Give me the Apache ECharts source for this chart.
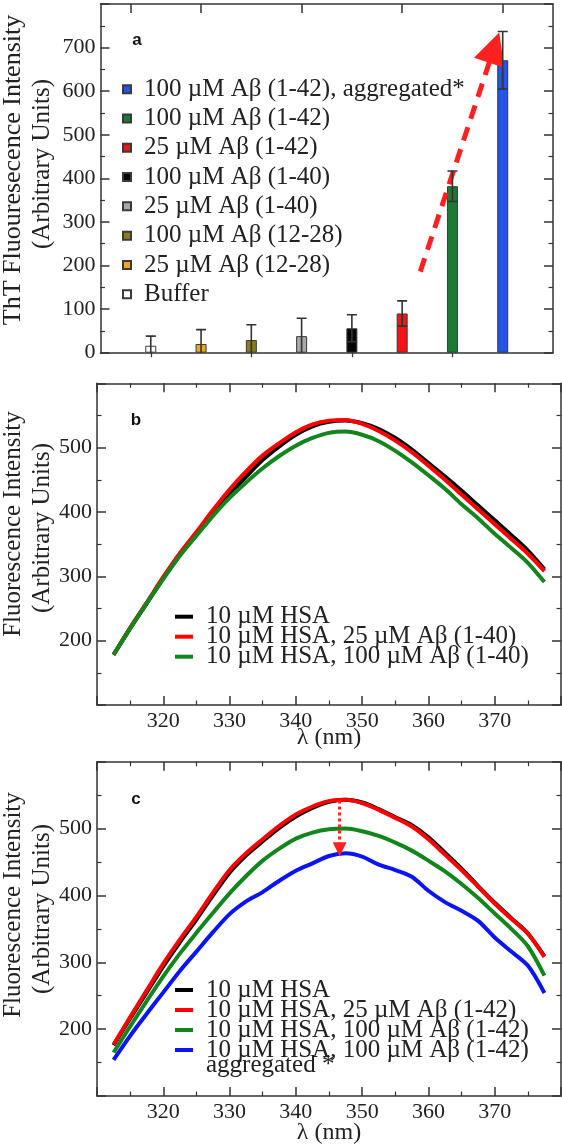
<!DOCTYPE html>
<html>
<head>
<meta charset="utf-8">
<script src="https://cdn.jsdelivr.net/npm/echarts@6/dist/echarts.min.js"></script>
<style>
html,body{margin:0;padding:0;background:#fff;}
#chart{width:562px;height:1148px;}
</style>
</head>
<body>
<div id="chart"></div>
<script>
// ---------- Panel a data ----------
const categories = ['Buffer', '25 µM Aβ (12-28)', '100 µM Aβ (12-28)', '25 µM Aβ (1-40)',
  '100 µM Aβ (1-40)', '25 µM Aβ (1-42)', '100 µM Aβ (1-42)', '100 µM Aβ (1-42), aggregated*'];
const barPositions = [1, 2, 3, 4, 5, 6, 7, 8];
const barValues = [16, 20, 29, 38, 56, 90, 382, 671];
const barErrors = [22, 33, 35, 41, 31, 29, 35, 66];
const barColors = ['#ffffff', '#EDA62A', '#8A7A22', '#A8A8A8', '#050505', '#F01616', '#1C7A34', '#2156E6'];
const topMajorTicks = [0.6, 2, 4, 6, 8];
const topMinorTicks = [1, 3, 5, 7];
const arrowA = [[6.36, 186], [7.83, 700]];
const yTicksA = [0, 800, 100];

// ---------- Panel b/c data ----------
const wavelengths = [312.5, 315, 317.5, 320, 322.5, 325, 327.5, 330, 332.5, 335, 337.5, 340, 342.5,
  345, 347.5, 350, 352.5, 355, 357.5, 360, 362.5, 365, 367.5, 370, 372.5, 375, 377.5];

const bNames = ['10 µM HSA', '10 µM HSA, 25 µM Aβ (1-40)', '10 µM HSA, 100 µM Aβ (1-40)'];
const bBlack = [178, 219, 258, 297, 333, 365, 398, 428, 455, 481, 502, 520, 533, 540, 542, 538, 529, 515, 497, 476, 455, 433, 410, 387, 364, 340, 311];
const bRed   = [178, 220, 259, 299, 336, 369, 403, 435, 463, 488, 507, 524, 536, 542, 543, 537, 526, 511, 493, 472, 450, 427, 404, 381, 358, 335, 308];
const bGreen = [178, 219, 258, 296, 332, 363, 394, 422, 446, 468, 487, 503, 515, 523, 525, 520, 510, 495, 477, 457, 436, 412, 390, 366, 344, 321, 291];

const cNames = ['10 µM HSA', '10 µM HSA, 25 µM Aβ (1-42)', '10 µM HSA, 100 µM Aβ (1-42)', '10 µM HSA, 100 µM Aβ (1-42) '];
const cBlack = [176, 216, 255, 294, 330, 364, 400, 434, 460, 481, 501, 518, 531, 540, 543, 539, 529, 517, 505, 487, 464, 440, 414, 389, 366, 343, 309];
const cRed   = [177, 218, 258, 298, 334, 368, 404, 438, 463, 484, 504, 521, 533, 541, 543, 538, 528, 516, 503, 484, 461, 438, 413, 388, 365, 343, 308];
const cGreen = [165, 204, 242, 279, 313, 344, 374, 403, 429, 452, 470, 485, 494, 499, 500, 496, 489, 479, 467, 452, 436, 417, 396, 373, 350, 324, 280];
const cBlue  = [154, 190, 223, 255, 287, 316, 345, 372, 391, 405, 422, 437, 448, 459, 463, 458, 446, 438, 428, 407, 390, 377, 362, 337, 316, 295, 254];
const cBlueNote = 'aggregated *';
const arrowC = [[346.6, 542], [346.6, 469]];
const xTicksBC = [310, 380, 10];
const yTicksBC = [100, 600, 100];

const lineColors = {black: '#000000', red: '#FF0000', green: '#12861C', blue: '#0A14F5'};

// ---------- helpers ----------
const serif = 'Liberation Serif';
const axisColor = '#333';
const pairs = (xs, ys) => xs.map((x, i) => [x, ys[i]]);

function yAxisCfg(grid, range, pos, labels) {
  return {
    type: 'value', gridIndex: grid, position: pos, min: range[0], max: range[1], interval: range[2],
    axisLine: {show: true, onZero: false, lineStyle: {color: axisColor, width: 1.5}},
    axisTick: {show: true, inside: true, length: 9, lineStyle: {color: axisColor, width: 1.5}},
    minorTick: {show: true, splitNumber: 2, length: 4.5, lineStyle: {color: axisColor, width: 1.2}},
    splitLine: {show: false}, minorSplitLine: {show: false},
    axisLabel: {show: labels, margin: 5, fontFamily: serif, fontSize: 22, color: '#222',
      showMinLabel: range[0] === 0, showMaxLabel: false}
  };
}
function xAxisCfg(grid, range, pos, labels, nameGap) {
  const a = {
    type: 'value', gridIndex: grid, position: pos, min: range[0], max: range[1], interval: range[2],
    axisLine: {show: true, onZero: false, lineStyle: {color: axisColor, width: 1.5}},
    axisTick: {show: true, inside: true, length: 9, lineStyle: {color: axisColor, width: 1.5}},
    minorTick: {show: true, splitNumber: 2, length: 4.5, lineStyle: {color: axisColor, width: 1.2}},
    splitLine: {show: false}, minorSplitLine: {show: false},
    axisLabel: {show: labels, margin: 5, fontFamily: serif, fontSize: 22, color: '#222',
      showMinLabel: false, showMaxLabel: false}
  };
  if (labels) {
    a.name = 'λ (nm)'; a.nameLocation = 'middle'; a.nameGap = nameGap; a.nameMoveOverlap = false;
    a.nameTextStyle = {fontFamily: serif, fontSize: 24, color: '#222'};
  }
  return a;
}

const grids = [
  {left: 100.5, top: 4, width: 452.5, height: 348.7},
  {left: 97, top: 383.3, width: 464, height: 321.7},
  {left: 97, top: 761.7, width: 464, height: 334.3}
];

const xAxes = [
  {type: 'value', gridIndex: 0, position: 'bottom', min: 0, max: 9,
    axisLine: {show: true, onZero: false, lineStyle: {color: axisColor, width: 1.5}},
    axisTick: {show: false}, axisLabel: {show: false}, splitLine: {show: false}},
  {type: 'value', gridIndex: 0, position: 'top', min: 0, max: 9,
    axisLine: {show: true, onZero: false, lineStyle: {color: axisColor, width: 1.5}},
    axisTick: {show: true, inside: true, length: 9, customValues: topMajorTicks, lineStyle: {color: axisColor, width: 1.5}},
    axisLabel: {show: false}, splitLine: {show: false}},
  {type: 'value', gridIndex: 0, position: 'top', min: 0, max: 9,
    axisLine: {show: false},
    axisTick: {show: true, inside: true, length: 4.5, customValues: topMinorTicks, lineStyle: {color: axisColor, width: 1.2}},
    axisLabel: {show: false}, splitLine: {show: false}},
  xAxisCfg(1, xTicksBC, 'bottom', true, 21),
  xAxisCfg(1, xTicksBC, 'top', false),
  xAxisCfg(2, xTicksBC, 'bottom', true, 25),
  xAxisCfg(2, xTicksBC, 'top', false)
];
const yAxes = [
  yAxisCfg(0, yTicksA, 'left', true),
  yAxisCfg(0, yTicksA, 'right', false),
  yAxisCfg(1, yTicksBC, 'left', true),
  yAxisCfg(1, yTicksBC, 'right', false),
  yAxisCfg(2, yTicksBC, 'left', true),
  yAxisCfg(2, yTicksBC, 'right', false)
];

const series = [];
// bars
categories.forEach((name, i) => {
  series.push({
    type: 'bar', name: name, xAxisIndex: 0, yAxisIndex: 0, barWidth: 11, barGap: '-100%',
    itemStyle: {color: barColors[i], borderColor: '#3a3a3a', borderWidth: 1},
    data: [[barPositions[i], barValues[i]]], z: 2
  });
});
// error bars
series.push({
  type: 'custom', xAxisIndex: 0, yAxisIndex: 0, clip: true, z: 5,
  data: barPositions.map((x, i) => [x, barValues[i], barErrors[i]]),
  renderItem: function (params, api) {
    const x = api.value(0), v = api.value(1), e = api.value(2);
    const top = api.coord([x, v + e]);
    const bot = api.coord([x, v - e]);
    const hw = 5;
    const st = {stroke: '#333', lineWidth: 1.6};
    return {type: 'group', children: [
      {type: 'line', shape: {x1: top[0], y1: top[1], x2: bot[0], y2: bot[1]}, style: st},
      {type: 'line', shape: {x1: top[0] - hw, y1: top[1], x2: top[0] + hw, y2: top[1]}, style: st},
      {type: 'line', shape: {x1: bot[0] - hw, y1: bot[1], x2: bot[0] + hw, y2: bot[1]}, style: st}
    ]};
  }
});
// dashed arrow panel a
series.push({
  type: 'line', xAxisIndex: 0, yAxisIndex: 0, data: [], z: 10,
  markLine: {
    silent: true, animation: false, symbol: ['none', 'triangle'], symbolSize: 32,
    label: {show: false},
    lineStyle: {color: '#FF2020', width: 5, type: [14, 9]},
    itemStyle: {color: '#FF2020'},
    data: [[{coord: arrowA[0]}, {coord: arrowA[1]}]]
  }
});
// panel b lines
[[bNames[0], bBlack, lineColors.black], [bNames[1], bRed, lineColors.red], [bNames[2], bGreen, lineColors.green]]
  .forEach(([n, d, c]) => series.push({
    type: 'line', name: n, xAxisIndex: 3, yAxisIndex: 2, data: pairs(wavelengths, d),
    smooth: 0.3, symbol: 'none', lineStyle: {color: c, width: 4}, itemStyle: {color: c}
  }));
// panel c lines
[[cNames[0], cBlack, lineColors.black], [cNames[1], cRed, lineColors.red], [cNames[2], cGreen, lineColors.green], [cNames[3], cBlue, lineColors.blue]]
  .forEach(([n, d, c]) => series.push({
    type: 'line', name: n, xAxisIndex: 5, yAxisIndex: 4, data: pairs(wavelengths, d),
    smooth: 0.3, symbol: 'none', lineStyle: {color: c, width: 4}, itemStyle: {color: c}
  }));
// dotted arrow panel c
series.push({
  type: 'line', xAxisIndex: 5, yAxisIndex: 4, data: [], z: 10,
  markLine: {
    silent: true, animation: false, symbol: ['none', 'triangle'], symbolSize: 14,
    label: {show: false},
    lineStyle: {color: '#FF2020', width: 3, type: [3, 3]},
    itemStyle: {color: '#FF2020'},
    data: [[{coord: arrowC[0]}, {coord: arrowC[1]}]]
  }
});

const legendText = (size, lh) => ({fontFamily: serif, fontSize: size, lineHeight: lh, color: '#222', padding: [0, 0, 0, 8]});

const option = {
  animation: false,
  backgroundColor: '#fff',
  textStyle: {fontFamily: serif},
  grid: grids,
  xAxis: xAxes,
  yAxis: yAxes,
  legend: [
    {orient: 'vertical', left: 122, top: 74.5, padding: 0, icon: 'rect', itemWidth: 8, itemHeight: 8, itemGap: 0,
      selectedMode: false, textStyle: legendText(25, 29.3), data: categories.slice().reverse()},
    {orient: 'vertical', left: 175, top: 604.2, padding: 0, icon: 'rect', itemWidth: 18, itemHeight: 4, itemGap: -5,
      selectedMode: false, textStyle: legendText(25, 20), data: bNames},
    {orient: 'vertical', left: 175, top: 977.5, padding: 0, icon: 'rect', itemWidth: 18, itemHeight: 4, itemGap: -5,
      selectedMode: false, textStyle: legendText(25, 20), data: cNames}
  ],
  graphic: [
    {type: 'text', x: 137, y: 40, style: {text: 'a', font: 'bold 17px "Liberation Sans"', fill: '#111', align: 'center', verticalAlign: 'middle'}},
    {type: 'text', x: 136, y: 420, style: {text: 'b', font: 'bold 17px "Liberation Sans"', fill: '#111', align: 'center', verticalAlign: 'middle'}},
    {type: 'text', x: 136, y: 799, style: {text: 'c', font: 'bold 17px "Liberation Sans"', fill: '#111', align: 'center', verticalAlign: 'middle'}},
    {type: 'text', x: 13, y: 170, rotation: Math.PI / 2, style: {text: 'ThT Fluouresecence Intensity', font: '26px "Liberation Serif"', fill: '#222', align: 'center', verticalAlign: 'middle'}},
    {type: 'text', x: 42, y: 164, rotation: Math.PI / 2, style: {text: '(Arbitrary Units)', font: '25px "Liberation Serif"', fill: '#222', align: 'center', verticalAlign: 'middle'}},
    {type: 'text', x: 13, y: 524, rotation: Math.PI / 2, style: {text: 'Fluorescence Intensity', font: '25px "Liberation Serif"', fill: '#222', align: 'center', verticalAlign: 'middle'}},
    {type: 'text', x: 42, y: 528, rotation: Math.PI / 2, style: {text: '(Arbitrary Units)', font: '25px "Liberation Serif"', fill: '#222', align: 'center', verticalAlign: 'middle'}},
    {type: 'text', x: 13, y: 905, rotation: Math.PI / 2, style: {text: 'Fluorescence Intensity', font: '25px "Liberation Serif"', fill: '#222', align: 'center', verticalAlign: 'middle'}},
    {type: 'text', x: 42, y: 909, rotation: Math.PI / 2, style: {text: '(Arbitrary Units)', font: '25px "Liberation Serif"', fill: '#222', align: 'center', verticalAlign: 'middle'}},
    {type: 'text', x: 206, y: 1065, style: {text: cBlueNote, font: '25px "Liberation Serif"', fill: '#222', align: 'left', verticalAlign: 'middle'}}
  ],
  series: series
};

const chart = echarts.init(document.getElementById('chart'), null, {renderer: 'canvas'});
chart.setOption(option);
</script>
</body>
</html>
